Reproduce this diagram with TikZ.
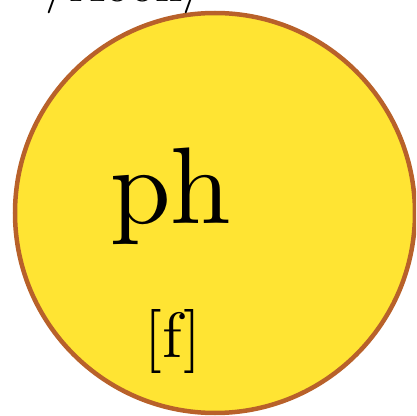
\documentclass[tikz,border=0pt]{standalone}
\usepackage{fontspec}
\newfontfamily\lmten{lmroman10-regular}[Extension=.otf]
\definecolor{fillyellow}{HTML}{FFE433}
\definecolor{rimbrown}{HTML}{B8612A}
\tikzset{
  disc/.style={circle, fill=fillyellow, draw=rimbrown, line width=4.5pt, minimum size=400pt, inner sep=0pt},
  lbl/.style={inner sep=0pt, anchor=base, text=black}
}
\begin{document}
\begin{tikzpicture}[x=1pt,y=1pt]
\useasboundingbox (0,0) rectangle (416,416);
\clip (0,0) rectangle (416,416);
\node[disc] (c) at (215,203) {};
\node[lbl, anchor=base west, font=\lmten\fontsize{49}{49}\selectfont] (top) at (45,414) {/Aoon/};
\node[lbl, font=\lmten\fontsize{109}{109}\selectfont] (ph) at (171,192) {ph};
\node[lbl, font=\lmten\fontsize{64}{64}\selectfont] (f) at (173,59) {[f]};
\end{tikzpicture}
\end{document}
